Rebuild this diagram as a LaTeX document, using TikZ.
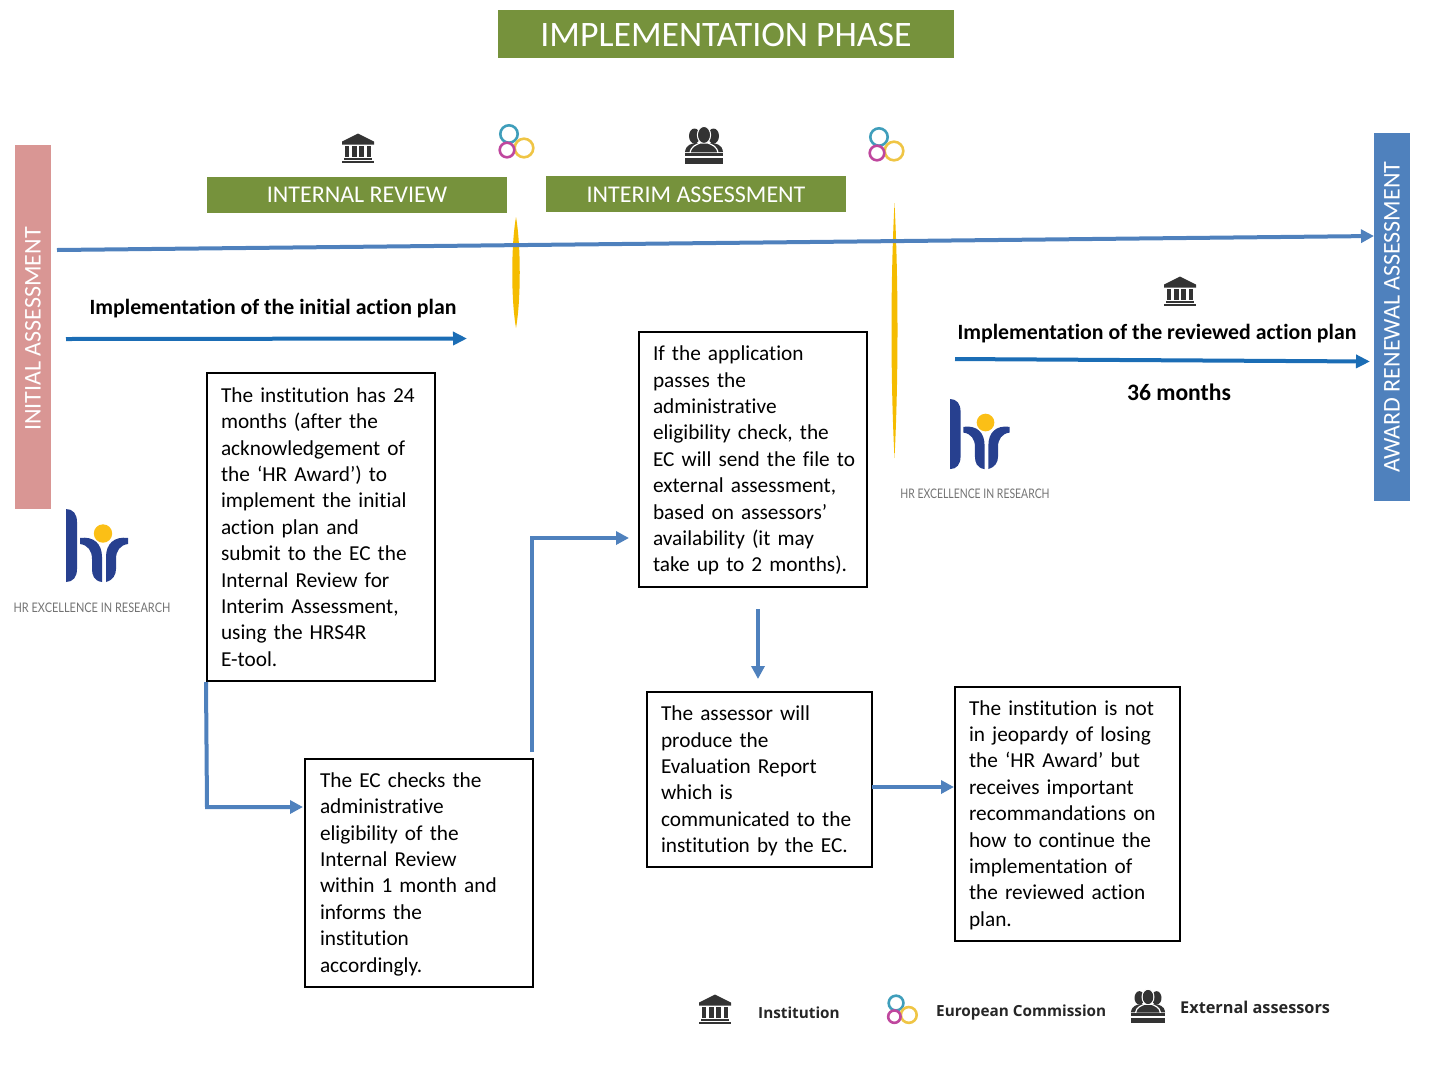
\documentclass[tikz,border=0pt]{standalone}
\usepackage{fontspec}
\setmainfont{Carlito}[Ligatures=NoCommon]
\newfontfamily\boldface{Open Sans}
\newfontfamily\logoface{Lato}
\usetikzlibrary{arrows.meta}
\definecolor{olivebar}{HTML}{76923C}
\definecolor{pinkbar}{HTML}{D99694}
\definecolor{bluebar}{HTML}{4F81BD}
\definecolor{deepblue}{HTML}{1B6DB5}
\definecolor{goldlens}{HTML}{F5BC00}
\definecolor{hrblue}{HTML}{27408F}
\definecolor{hrsun}{HTML}{FBBF16}
\definecolor{icondark}{HTML}{333333}
\definecolor{ringblue}{HTML}{3F9EBB}
\definecolor{ringmag}{HTML}{BF479E}
\definecolor{ringyel}{HTML}{EFC545}
\tikzset{
  x=1pt,y=-1pt,
  textbox/.style={draw=black,line width=2pt,fill=white,inner sep=0pt,minimum height=#1,font=\fontsize{21.3}{26.4}\selectfont,align=left},
  olivebox/.style={fill=olivebar,text=white,inner sep=0pt,minimum height=36pt,minimum width=300pt,font=\fontsize{24}{28}\selectfont},
  sidebar/.style={text=white,inner sep=0pt,font=\fontsize{24}{28}\selectfont,rotate=90,minimum height=36pt},
  flow/.style={draw=bluebar,line width=4pt,-{Triangle[length=13pt,width=13pt]}},
  planarrow/.style={draw=deepblue,line width=4pt,-{Triangle[length=14pt,width=13pt]}},
  boldlabel/.style={inner sep=0pt,font=\bfseries\fontsize{#1}{25}\selectfont},
  legendlabel/.style={inner sep=0pt,anchor=west,text=black!85,font=\boldface\bfseries\fontsize{#1}{18}\selectfont},
  logolabel/.style={inner sep=0pt,text=black!55,transform shape,font=\logoface\fontsize{13.2}{16}\selectfont},
  lens/.style={fill=goldlens,draw=none},
  bank/.pic={
    \fill[icondark] (-16,-6.5) -- (0,-14.5) -- (16,-6.5) -- (16,-3.5) -- (-16,-3.5) -- cycle;
    \foreach \cx in {-11,-3.7,3.7,11} \fill[icondark] (\cx-2.4,-2.5) rectangle (\cx+2.4,9);
    \fill[icondark] (-14,10) rectangle (14,11.5);
    \fill[icondark] (-16,12.5) rectangle (16,15);
  },
  rings/.pic={
    \draw[line width=2.6pt,color=ringblue] (-7,-7) circle (8.7);
    \draw[line width=2.6pt,color=ringyel] (8,7) circle (9.3);
    \draw[line width=2.6pt,color=ringmag] (-9,9) circle (7.3);
  },
  assessors/.pic={
    \fill[icondark] (-9.5,-9) ellipse (5.5 and 7.5);
    \fill[icondark] (9.5,-9) ellipse (5.5 and 7.5);
    \fill[icondark] (-19,7) .. controls (-18,-1) and (-12,-1) .. (-9,-2) -- (9,-2) .. controls (12,-1) and (18,-1) .. (19,7) -- cycle;
    \filldraw[icondark,draw=white,line width=1.2pt] (0,-10) ellipse (6.5 and 8.5);
    \filldraw[icondark,draw=white,line width=1.2pt] (-14,8) .. controls (-13,1) and (-8,0) .. (-4,-2) -- (4,-2) .. controls (8,0) and (13,1) .. (14,8) -- cycle;
    \fill[icondark] (0,-10) ellipse (5.8 and 7.8);
    \fill[icondark] (-19,8) rectangle (19,11);
    \fill[icondark] (-19,13) rectangle (19,19);
  },
  hrlogo/.pic={
    \fill[hrblue] (0,0) .. controls (7,0) and (11,5) .. (11,13) -- (11,60) .. controls (11,68) and (7,73) .. (0,73) -- cycle;
    \fill[hrblue] (14,29) .. controls (28,27) and (36,35) .. (36,48) -- (36,73) .. controls (28,72) and (26,66) .. (26,60) -- (26,50) .. controls (26,42) and (22,36) .. (14,35) -- cycle;
    \fill[hrblue] (62,29) .. controls (48,27) and (40,35) .. (40,48) -- (40,73) .. controls (47,71) and (50,66) .. (50,60) -- (50,50) .. controls (50,42) and (54,36) .. (62,35) -- cycle;
    \fill[hrsun] (37,24.5) circle (9.2);
  }
}
\begin{document}
\begin{tikzpicture}
\useasboundingbox (0,0) rectangle (1433,1077);
% title and phases
\node[fill=olivebar,text=white,inner sep=0pt,minimum width=456pt,minimum height=48pt,font=\fontsize{35.8}{40}\selectfont] (title) at (726,34) {\rule{0pt}{26pt}IMPLEMENTATION PHASE};
\node[olivebox] (review) at (357,195) {INTERNAL REVIEW};
\node[olivebox] (interim) at (696,194) {\rule{0pt}{18pt}INTERIM ASSESSMENT};
% side bars
\fill[pinkbar] (15,145) rectangle (51,509);
\node[sidebar] (initial) at (33,329) {INITIAL ASSESSMENT};
\fill[bluebar] (1374,133) rectangle (1410,501);
\node[sidebar] (award) at (1392,317) {AWARD RENEWAL ASSESSMENT};
% lenses
\fill[lens] (516,217) .. controls (521,245) and (521,300) .. (516,328) .. controls (511,300) and (511,245) .. (516,217) -- cycle;
\fill[lens] (894.5,203) .. controls (898.5,280) and (898.5,380) .. (894.5,458) .. controls (890.5,380) and (890.5,280) .. (894.5,203) -- cycle;
% time line
\coordinate (tstart) at (57,250);
\coordinate (tend) at (1374,236);
\draw[flow] (tstart) -- (tend);
% action plan arrows
\node[boldlabel=21.8] (plan1) at (273,309) {Implementation of the initial action plan};
\coordinate (p1a) at (66,339);
\coordinate (p1b) at (467,338.5);
\draw[planarrow] (p1a) -- (p1b);
\node[boldlabel=21.8] (plan2) at (1157,334) {Implementation of the reviewed action plan};
\coordinate (p2a) at (955,359);
\coordinate (p2b) at (1370,361.5);
\draw[planarrow] (p2a) -- (p2b);
\node[boldlabel=23.6] (months) at (1179,392) {36 months};
% text boxes
\node[textbox=308pt,text width=200pt,inner xsep=14pt] (b1) at (321,527) {The institution has 24\\months (after the\\acknowledgement of\\the ‘HR Award’) to\\implement the initial\\action plan and\\submit to the EC the\\Internal Review for\\Interim Assessment,\\using the HRS4R\\E-tool.};
\node[textbox=228pt,text width=198pt,inner xsep=15pt] (b2) at (419,873) {\rule{0pt}{17pt}The EC checks the\\administrative\\eligibility of the\\Internal Review\\within 1 month and\\informs the\\institution\\accordingly.};
\node[textbox=255pt,text width=200pt,inner xsep=14pt] (b3) at (753,459.5) {\rule{0pt}{17pt}If the application\\passes the\\administrative\\eligibility check, the\\\mbox{EC will send the file to}\\external assessment,\\based on assessors’\\availability (it may\\take up to 2 months).};
\node[textbox=175pt,text width=197pt,inner xsep=14pt] (b4) at (759.5,779.5) {\rule{0pt}{18pt}The assessor will\\produce the\\Evaluation Report\\which is\\communicated to the\\institution by the EC.};
\node[textbox=254pt,text width=197pt,inner xsep=14pt] (b5) at (1067.5,814) {\rule{0pt}{17pt}The institution is not\\in jeopardy of losing\\the ‘HR Award’ but\\receives important\\recommandations on\\how to continue the\\implementation of\\the reviewed action\\plan.};
% connectors
\coordinate (c1a) at (207,807);
\coordinate (c1b) at (303,807);
\draw[flow] (b1.south west) -- (c1a) -- (c1b);
\coordinate (c2) at (532,752);
\coordinate (c3) at (629,538);
\draw[flow] (c2) |- (c3);
\coordinate (c4a) at (758,609);
\coordinate (c4b) at (758,679);
\draw[flow] (c4a) -- (c4b);
\coordinate (c5a) at (872,787);
\coordinate (c5b) at (954,787);
\draw[flow] (c5a) -- (c5b);
% icons
\pic at (358,148) {bank};
\pic at (1180,291) {bank};
\pic at (516,141) {rings};
\pic at (886,144) {rings};
\pic at (704,145) {assessors};
% logos
\pic at (66,509) {hrlogo};
\node[logolabel,xscale=.83] (hr1) at (92,608) {HR EXCELLENCE IN RESEARCH};
\pic[scale=.96] at (950,399) {hrlogo};
\node[logolabel,xscale=.79] (hr2) at (975,494) {HR EXCELLENCE IN RESEARCH};
% legend
\pic at (715,1009) {bank};
\node[legendlabel=15.3] (l1) at (758,1013) {Institution};
\pic[scale=.85] at (902,1009) {rings};
\node[legendlabel=15.3] (l2) at (936,1013) {European Commission};
\pic[scale=.9] at (1148,1006) {assessors};
\node[legendlabel=16.3] (l3) at (1180,1007) {External assessors};
\end{tikzpicture}
\end{document}
